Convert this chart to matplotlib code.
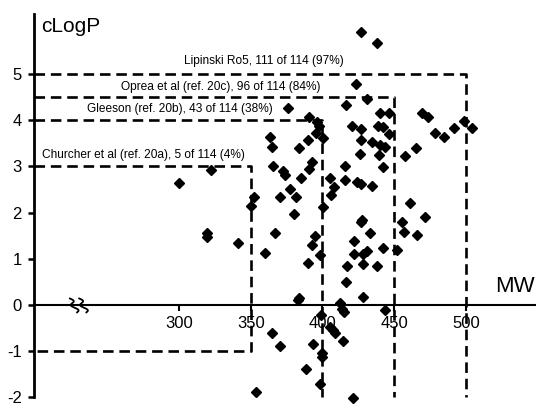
import matplotlib
matplotlib.use("Agg")
import matplotlib.pyplot as plt
import numpy as np

plt.rcParams['font.family'] = ['Liberation Sans', 'DejaVu Sans']
plt.rcParams['axes.unicode_minus'] = False

# compounds: molecular weight and calculated logP
mw = [300.0, 322.3, 319.5, 319.5, 341.1, 350.2, 352.3, 359.9, 364.8, 353.7,
      426.8, 438.0, 423.4, 431.0, 416.4, 376.0, 390.6, 396.2, 397.6, 395.5,
      400.4, 389.9, 383.6, 392.7, 390.6, 385.0, 363.4, 364.8, 365.5, 372.5,
      373.9, 377.4, 370.4, 381.5, 405.2, 415.7, 408.0, 405.9, 415.7, 426.2,
      424.1, 426.8, 434.5, 420.6, 426.8, 426.8, 434.5, 440.1, 443.6, 439.4,
      442.2, 440.1, 446.4, 438.7, 442.2, 446.4, 457.5, 465.2, 469.4, 473.6,
      478.4, 484.7, 491.7, 498.6, 504.2, 380.2, 400.4, 461.0, 471.5, 455.4,
      456.8, 465.9, 451.9, 426.8, 433.1, 422.0, 422.0, 428.2, 431.0, 442.2,
      428.2, 438.0, 417.1, 416.4, 428.2, 443.6, 412.2, 413.6, 415.0, 366.9,
      394.8, 392.7, 398.3, 389.9, 382.9, 370.4, 393.4, 399.0, 405.2, 407.3,
      408.7, 414.3, 399.7, 399.7, 388.5, 398.3, 421.3, 427.5, 384.0]
clogp = [2.64, 2.92, 1.56, 1.47, 1.34, 2.14, 2.34, 1.13, -0.61, -1.88,
         5.91, 5.67, 4.78, 4.46, 4.33, 4.26, 4.07, 3.96, 3.87, 3.72,
         3.61, 3.57, 3.40, 3.10, 2.94, 2.75, 3.64, 3.42, 3.01, 2.90,
         2.81, 2.51, 2.34, 2.34, 2.75, 2.71, 2.55, 2.38, 3.01, 3.27,
         2.66, 2.62, 2.58, 3.87, 3.81, 3.57, 3.53, 3.46, 3.42, 3.25,
         2.99, 4.16, 4.16, 3.87, 3.85, 3.70, 3.23, 3.40, 4.16, 4.07,
         3.72, 3.64, 3.83, 3.98, 3.83, 1.97, 2.12, 2.21, 1.90, 1.80,
         1.58, 1.52, 1.19, 1.80, 1.56, 1.39, 1.10, 1.10, 1.17, 1.23,
         0.89, 0.84, 0.84, 0.50, 0.17, -0.11, 0.04, -0.09, -0.15, 1.56,
         1.49, 1.30, 1.08, 0.91, 0.11, -0.89, -0.84, -0.22, -0.48, -0.54,
         -0.61, -0.78, -1.04, -1.13, -1.39, -1.71, -2.01, 1.84, 0.14]

# rule boxes: MW limit, upper cLogP limit, lower cLogP limit, label
rule_mw = [500, 450, 400, 350]
rule_hi = [5, 4.5, 4, 3]
rule_lo = [-2, -2, -2, -1]
rule_labels = ['Lipinski Ro5, 111 of 114 (97%)',
               'Oprea et al (ref. 20c), 96 of 114 (84%)',
               'Gleeson (ref. 20b), 43 of 114 (38%)',
               'Churcher et al (ref. 20a), 5 of 114 (4%)']
label_x = [359, 329, 300.5, 275.5]
label_y = [5.28, 4.72, 4.24, 3.25]

x_ticks = [300, 350, 400, 450, 500]
y_ticks = [-2, -1, 0, 1, 2, 3, 4, 5]

x_axis_start = 199.3

fig = plt.figure(figsize=(5.36, 4.05), dpi=100)
ax = fig.add_axes([0, 0, 1, 1])
ax.set_xlim(175.3, 548.8)
ax.set_ylim(-2.165, 6.60)

for m, hi, lo in zip(rule_mw, rule_hi, rule_lo):
    xs = [x_axis_start, m, m]
    ys = [hi, hi, lo]
    if lo > -2:
        xs.append(x_axis_start)
        ys.append(lo)
    ax.plot(xs, ys, color='black', lw=1.9, dashes=(4, 2.2), zorder=2,
            solid_joinstyle='miter')

for lx, ly, txt in zip(label_x, label_y, rule_labels):
    ax.text(lx, ly, txt, ha='center', va='center', fontsize=8.6)

ax.plot(mw, clogp, ls='none', marker='D', ms=4.6, color='black', zorder=3)

for side in ['top', 'right']:
    ax.spines[side].set_visible(False)
ax.spines['left'].set_position(('data', x_axis_start))
ax.spines['left'].set_bounds(-2, 6.3)
ax.spines['left'].set_linewidth(2.0)
ax.spines['bottom'].set_position(('data', 0))
ax.spines['bottom'].set_bounds(x_axis_start, 548.8)
ax.spines['bottom'].set_linewidth(1.5)

ax.set_xticks(x_ticks)
ax.set_yticks(y_ticks)
ax.tick_params(axis='y', direction='out', length=4, width=1.8, pad=5, labelsize=12)
ax.tick_params(axis='x', direction='out', length=4, width=1.5, pad=4, labelsize=12)

ax.text(203.8, 6.02, 'cLogP', ha='left', va='center', fontsize=15)
ax.text(520.2, 0.39, 'MW', ha='left', va='center', fontsize=16)

# axis break mark
t = np.linspace(0, 1, 40)
for x0 in [224.0, 230.5]:
    ax.plot(x0 + 5 * t + 1.8 * np.sin(2 * np.pi * t * 1.5), 0.14 - 0.3 * t,
            color='black', lw=1.3, zorder=4)

fig.savefig('out.png', dpi=100)
